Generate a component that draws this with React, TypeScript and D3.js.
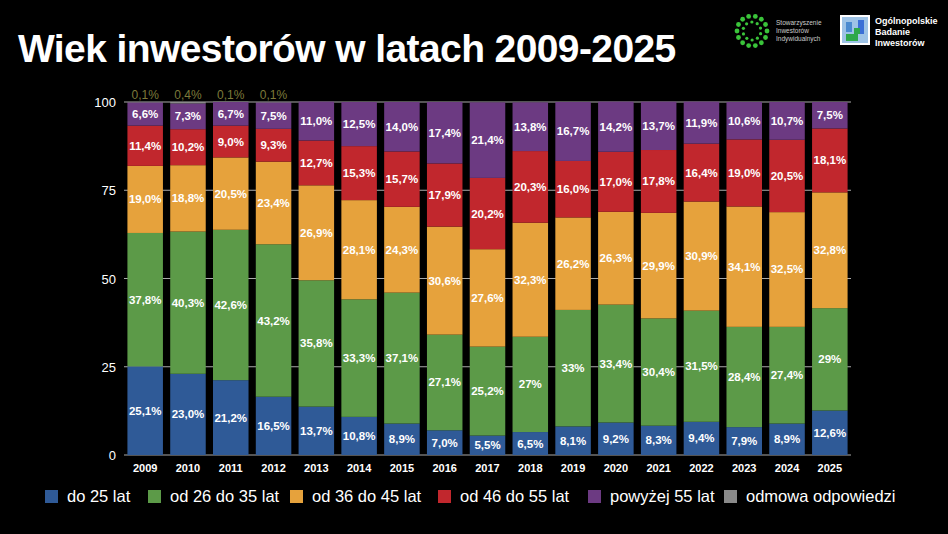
import React from 'react'
import * as d3 from 'd3'

const years = ['2009', '2010', '2011', '2012', '2013', '2014', '2015', '2016', '2017', '2018', '2019', '2020', '2021', '2022', '2023', '2024', '2025']
const seriesNames = ['do 25 lat', 'od 26 do 35 lat', 'od 36 do 45 lat', 'od 46 do 55 lat', 'powyżej 55 lat', 'odmowa odpowiedzi']
const colors = ['#2f5a97', '#5c9a48', '#e6a23c', '#c1272d', '#6c3a82', '#8a8a8a']

const do25 = [25.1, 23.0, 21.2, 16.5, 13.7, 10.8, 8.9, 7.0, 5.5, 6.5, 8.1, 9.2, 8.3, 9.4, 7.9, 8.9, 12.6]
const od26 = [37.8, 40.3, 42.6, 43.2, 35.8, 33.3, 37.1, 27.1, 25.2, 27, 33, 33.4, 30.4, 31.5, 28.4, 27.4, 29]
const od36 = [19.0, 18.8, 20.5, 23.4, 26.9, 28.1, 24.3, 30.6, 27.6, 32.3, 26.2, 26.3, 29.9, 30.9, 34.1, 32.5, 32.8]
const od46 = [11.4, 10.2, 9.0, 9.3, 12.7, 15.3, 15.7, 17.9, 20.2, 20.3, 16.0, 17.0, 17.8, 16.4, 19.0, 20.5, 18.1]
const pow55 = [6.6, 7.3, 6.7, 7.5, 11.0, 12.5, 14.0, 17.4, 21.4, 13.8, 16.7, 14.2, 13.7, 11.9, 10.6, 10.7, 7.5]
const odmowa = [0.1, 0.4, 0.1, 0.1, 0, 0, 0, 0, 0, 0, 0, 0, 0, 0, 0, 0, 0]
const yTicks = [0, 25, 50, 75, 100]

const series = [do25, od26, od36, od46, pow55, odmowa]
const fmt = (v: number) => (Number.isInteger(v) && v >= 27 ? `${v}%` : `${v.toFixed(1).replace('.', ',')}%`)
const font = 'Liberation Sans, Arial, sans-serif'

export default function App() {
  const x = d3.scaleBand().domain(years).range([124, 851]).paddingInner(0.17).paddingOuter(0.08)
  const y = d3.scaleLinear().domain([0, 100]).range([455, 102])
  const stacked = d3.stack<number>().keys(d3.range(6).map(String)).value((i, k) => series[+k][i])(d3.range(years.length))

  return (
    <svg width={948} height={534} style={{ position: 'absolute', left: 0, top: 0, background: '#000' }}>
      <rect width={948} height={534} fill="#000" />
      <text x={18} y={62} fill="#fff" fontFamily={font} fontWeight="bold" fontSize={39} letterSpacing={-0.6}>Wiek inwestorów w latach 2009-2025</text>
      {/* logos */}
      <g>
        {d3.range(14).map(i => {
          const a = (i / 14) * Math.PI * 2
          return <circle key={i} cx={752 + Math.cos(a) * 15} cy={31 + Math.sin(a) * 15} r={2.4} fill="#3ac43a" />
        })}
        {d3.range(10).map(i => {
          const a = (i / 10) * Math.PI * 2 + 0.3
          return <circle key={'b' + i} cx={752 + Math.cos(a) * 9} cy={31 + Math.sin(a) * 9} r={1.6} fill="#3ac43a" />
        })}
        <text fontFamily={font} fontSize={6.5} fill="#ccc">
          <tspan x={776} y={25}>Stowarzyszenie</tspan>
          <tspan x={776} y={33}>Inwestorów</tspan>
          <tspan x={776} y={41}>Indywidualnych</tspan>
        </text>
        <rect x={840} y={15} width={30} height={30} fill="#fff" />
        <rect x={842} y={17} width={26} height={26} fill="#9ec3e6" />
        <path d="M846 22h6v10h-6z" fill="#4a8ad0" />
        <path d="M858 20h6v14h-6z" fill="#3b6fd6" />
        <path d="M846 34h8v-6h6v6h-2v7h-12z" fill="#2ea84a" />
        <text fontFamily={font} fontSize={9} fontWeight="bold" fill="#fff">
          <tspan x={875} y={24}>Ogólnopolskie</tspan>
          <tspan x={875} y={35}>Badanie</tspan>
          <tspan x={875} y={46}>Inwestorów</tspan>
        </text>
      </g>
      {yTicks.map(t => (
        <g key={t}>
          <line x1={124} x2={851} y1={y(t)} y2={y(t)} stroke="#aaa" strokeWidth={1} />
          <text x={116} y={y(t) + 5} textAnchor="end" fill="#fff" fontFamily={font} fontSize={13}>{t}</text>
        </g>
      ))}
      {stacked.map((layer, si) => (
        <g key={si}>
          {layer.map((d, i) => (
            <rect key={i} x={x(years[i])} y={y(d[1])} width={x.bandwidth()} height={Math.max(0, y(d[0]) - y(d[1]))} fill={colors[si]} />
          ))}
        </g>
      ))}
      {stacked.map((layer, si) =>
        layer.map((d, i) => {
          const v = series[si][i]
          if (v <= 0) return null
          const cx = (x(years[i]) ?? 0) + x.bandwidth() / 2
          if (si === 5)
            return <text key={`${si}-${i}`} x={cx} y={99} textAnchor="middle" fill="#7d7a3a" fontFamily={font} fontSize={12}>{fmt(v)}</text>
          return (
            <text key={`${si}-${i}`} x={cx} y={(y(d[0]) + y(d[1])) / 2 + 4} textAnchor="middle" fill="#fff" fontFamily={font} fontSize={11.5} fontWeight="bold">{fmt(v)}</text>
          )
        })
      )}
      {years.map(yr => (
        <text key={yr} x={(x(yr) ?? 0) + x.bandwidth() / 2} y={472} textAnchor="middle" fill="#fff" fontFamily={font} fontSize={11} fontWeight="bold">{yr}</text>
      ))}
      {seriesNames.map((n, i) => {
        const lx = [45, 148, 290, 438, 588, 724][i]
        return (
          <g key={n}>
            <rect x={lx} y={490} width={13} height={13} fill={colors[i]} />
            <text x={lx + 22} y={502} fill="#fff" fontFamily={font} fontSize={16.5}>{n}</text>
          </g>
        )
      })}
    </svg>
  )
}
